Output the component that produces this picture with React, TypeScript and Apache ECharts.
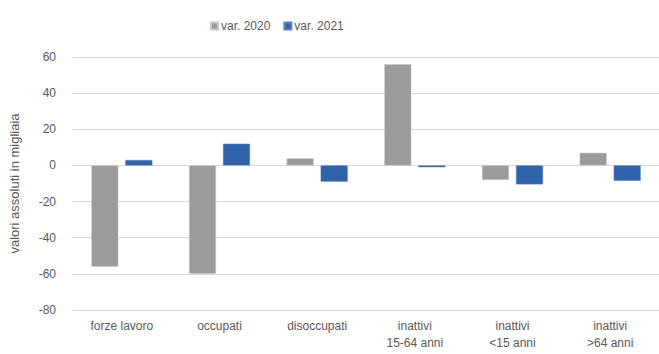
import React, { useEffect, useRef } from "react";
import * as echarts from "echarts";

const categories = ["forze lavoro", "occupati", "disoccupati", "inattivi\n15-64 anni", "inattivi\n<15 anni", "inattivi\n>64 anni"];
const var2020 = [-56, -60, 4, 56, -8, 7];
const var2021 = [3, 12, -9, -1, -10.5, -8.5];
const seriesNames = ["var. 2020", "var. 2021"];
const yTicks = { min: -80, max: 60, interval: 20 };

const FONT = "Liberation Sans";
const TXT = "#595959";

export default function App() {
  const ref = useRef<HTMLDivElement>(null);
  useEffect(() => {
    const chart = echarts.init(ref.current!, undefined, { renderer: "svg" });
    chart.setOption({
      animation: false,
      textStyle: { fontFamily: FONT },
      legend: {
        left: 205,
        top: 15,
        itemWidth: 7,
        itemHeight: 7,
        itemGap: 13,
        icon: "rect",
        textStyle: { color: TXT, fontSize: 12, fontFamily: FONT, padding: [0, 0, 0, -2] },
        data: seriesNames,
      },
      grid: { left: 70, right: -12, top: 57, bottom: 44 },
      xAxis: {
        type: "category",
        data: categories,
        axisLine: { show: false },
        axisTick: { show: false },
        axisLabel: { color: TXT, fontSize: 12, fontFamily: FONT, margin: 7, lineHeight: 17, interval: 0 },
      },
      yAxis: {
        type: "value",
        min: yTicks.min,
        max: yTicks.max,
        interval: yTicks.interval,
        name: "valori assoluti in migliaia",
        nameLocation: "middle",
        nameGap: 52,
        nameTextStyle: { color: TXT, fontSize: 13, fontFamily: FONT },
        axisLabel: { color: TXT, fontSize: 12, fontFamily: FONT, margin: 17 },
        axisLine: { show: false },
        axisTick: { show: false },
        splitLine: { lineStyle: { color: "#D9D9D9", width: 1 } },
      },
      series: [
        {
          name: seriesNames[0],
          type: "bar",
          data: var2020,
          barWidth: 27,
          barGap: "26%",
          itemStyle: { color: "#9B9B9B", borderColor: "#C8C8C8", borderWidth: 0.5 },
        },
        {
          name: seriesNames[1],
          type: "bar",
          data: var2021,
          barWidth: 27,
          barGap: "26%",
          itemStyle: { color: "#3062AA", borderColor: "#5B82C0", borderWidth: 0.5 },
        },
      ],
    });
    return () => chart.dispose();
  }, []);
  return <div ref={ref} style={{ width: 659, height: 354, position: "absolute", left: 0, top: 0, background: "#fff" }} />;
}
